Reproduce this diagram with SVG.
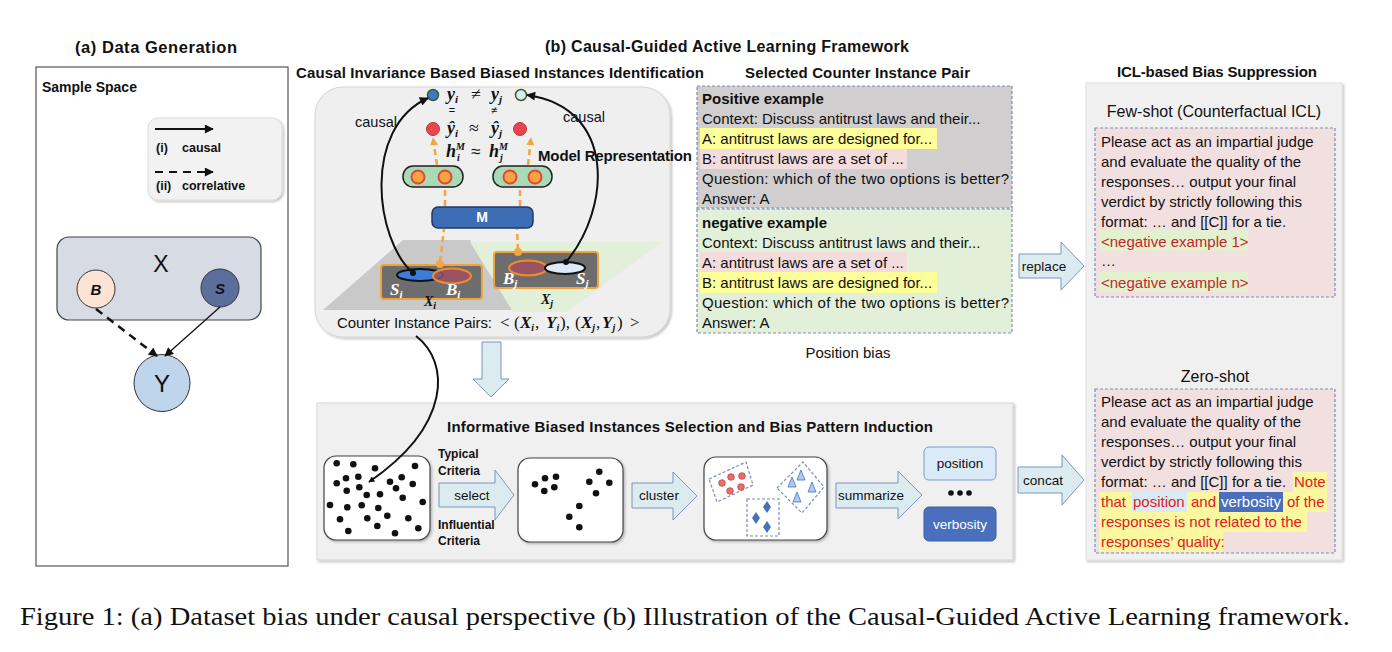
<svg xmlns="http://www.w3.org/2000/svg" width="1392" height="652" viewBox="0 0 1392 652">
<defs>
<style>
text{font-family:"Liberation Sans",Arial,sans-serif;fill:#111}
.b{font-weight:bold}
.m{font-family:"Liberation Serif","DejaVu Serif",serif;font-style:italic;font-weight:bold}
.sr{font-family:"Liberation Serif","DejaVu Serif",serif}
.w{fill:#fff}
.ddash{stroke:#7c8db8;stroke-width:1.2;stroke-dasharray:3 2}
.barrow{fill:#dcebef;stroke:#7b96c2;stroke-width:1}
.or{fill:none;stroke:#f4a53f;stroke-width:2.5;stroke-dasharray:6 4}
.d{fill:#111}
.wb{fill:#fff;stroke:#444;stroke-width:1.2}
.rd{fill:#e8706c;stroke:#c94040;stroke-width:0.8}
.tri{fill:#a9cdf0;stroke:#4a6fbd;stroke-width:0.8}
.dia{fill:#4a6fbd}
.odot{fill:#f5a442;stroke:#e8443a;stroke-width:2}
.rdot{fill:#e94452;stroke:#c0392b;stroke-width:1}
.red{fill:#c0282d}
.r2{fill:#e02020}
.n{font-style:normal;font-weight:normal}
</style>
<filter id="sh" x="-5%" y="-5%" width="115%" height="115%">
<feDropShadow dx="1.5" dy="1.5" stdDeviation="1.2" flood-color="#000" flood-opacity="0.25"/>
</filter>
<marker id="ah" viewBox="0 0 10 10" refX="9" refY="5" markerWidth="10" markerHeight="9" markerUnits="userSpaceOnUse" orient="auto">
<path d="M0,0 L10,5 L0,10 z" fill="#111"/>
</marker>
<marker id="ahs" viewBox="0 0 10 10" refX="9" refY="5" markerWidth="7" markerHeight="6" markerUnits="userSpaceOnUse" orient="auto">
<path d="M0,0 L10,5 L0,10 z" fill="#111"/>
</marker>
<marker id="aho" viewBox="0 0 10 10" refX="9" refY="5" markerWidth="8" markerHeight="8" markerUnits="userSpaceOnUse" orient="auto">
<path d="M0,0 L10,5 L0,10 z" fill="#f4a53f"/>
</marker>
</defs>
<rect width="1392" height="652" fill="#fff"/>

<!-- Titles -->
<g id="titles">
<text x="75" y="53" class="b" font-size="16.5" textLength="162">(a)  Data Generation</text>
<text x="545" y="52" class="b" font-size="16" textLength="364">(b)  Causal-Guided Active Learning Framework</text>
<text x="296" y="78" class="b" font-size="15" textLength="408">Causal Invariance Based Biased Instances Identification</text>
<text x="745" y="78" class="b" font-size="15" textLength="225">Selected Counter Instance Pair</text>
<text x="1117" y="77" class="b" font-size="15" textLength="200">ICL-based Bias Suppression</text>
</g>

<!-- (a) Data generation panel -->
<g id="panel-a">
<rect x="36" y="67" width="252" height="499" fill="#fff" stroke="#555" stroke-width="1.2"/>
<text x="42" y="92" class="b" font-size="14">Sample Space</text>
</g>
<g id="legend">
<rect x="148" y="118" width="134" height="82" rx="10" fill="#f2f2f2" stroke="#ddd" filter="url(#sh)"/>
<line x1="155" y1="129" x2="213" y2="129" stroke="#111" stroke-width="2" marker-end="url(#ah)"/>
<text x="156" y="152" class="b" font-size="12.5">(i)</text>
<text x="182" y="152" class="b" font-size="12.5">causal</text>
<line x1="155" y1="172" x2="213" y2="172" stroke="#111" stroke-width="2" stroke-dasharray="8 6" marker-end="url(#ah)"/>
<text x="156" y="190" class="b" font-size="12.5">(ii)</text>
<text x="182" y="190" class="b" font-size="12.5">correlative</text>
</g>
<g id="node-X">
<rect x="57" y="237" width="204" height="83" rx="12" fill="#d6dbe4" stroke="#444" stroke-width="1.2"/>
<text x="161" y="272" font-size="23" text-anchor="middle">X</text>
</g>
<g id="node-B">
<circle cx="96" cy="289" r="19" fill="#fbe4d4" stroke="#333" stroke-width="1"/>
<text x="96" y="295" class="b" font-size="15" font-style="italic" text-anchor="middle">B</text>
</g>
<g id="node-S">
<circle cx="220" cy="288" r="19" fill="#5b6e9c" stroke="#333" stroke-width="1"/>
<text x="220" y="294" class="b" font-size="15" font-style="italic" text-anchor="middle">S</text>
</g>
<g id="node-Y">
<ellipse cx="162" cy="383" rx="28" ry="28.5" fill="#bfd5ec" stroke="#333" stroke-width="1"/>
<text x="162" y="392" font-size="24" text-anchor="middle">Y</text>
</g>

<!-- Top middle: causal invariance -->
<g id="causal-box">
<rect x="315" y="87" width="355" height="250" rx="28" fill="#efefef" stroke="#d5d5d5" filter="url(#sh)"/>
<polygon points="323,310 403,240 470,240 513,310" fill="#c9c9c9"/>
<polygon points="470,242 662,242 567,312 513,312" fill="#e2efd9"/>
</g>
<g id="node-Xi">
<rect x="381" y="265" width="101" height="34" rx="3" fill="#6d6d6d" stroke="#f0a23b" stroke-width="2"/>
<ellipse cx="420" cy="275" rx="23" ry="6" fill="#3b7dd8" stroke="#111" stroke-width="2"/>
<ellipse cx="452" cy="276" rx="19" ry="7.5" fill="#a0505e" fill-opacity="0.85" stroke="#f08a30" stroke-width="2"/>
<circle cx="413" cy="273" r="3" fill="#111"/>
<circle cx="440" cy="264" r="4" fill="#f5a442"/>
<text x="390" y="295" class="m w" font-size="17">S<tspan font-size="11" dy="3">i</tspan></text>
<text x="446" y="295" class="m w" font-size="17">B<tspan font-size="11" dy="3">i</tspan></text>
<text x="424" y="306" class="m" font-size="14">X<tspan font-size="10" dy="3">i</tspan></text>
</g>
<g id="node-Xj">
<rect x="494" y="252" width="104" height="36" rx="3" fill="#6d6d6d" stroke="#f0a23b" stroke-width="2"/>
<ellipse cx="528" cy="268" rx="19" ry="7.5" fill="#a0505e" fill-opacity="0.85" stroke="#f08a30" stroke-width="2"/>
<ellipse cx="565" cy="268" rx="20" ry="6" fill="#dce9f7" stroke="#111" stroke-width="2"/>
<circle cx="566" cy="262" r="3" fill="#111"/>
<circle cx="518" cy="252" r="4" fill="#f5a442"/>
<text x="503" y="284" class="m w" font-size="17">B<tspan font-size="11" dy="3">j</tspan></text>
<text x="576" y="284" class="m w" font-size="17">S<tspan font-size="11" dy="3">j</tspan></text>
<text x="541" y="304" class="m" font-size="14">X<tspan font-size="10" dy="3">j</tspan></text>
</g>
<g id="node-M">
<rect x="432" y="207" width="101" height="21" rx="6" fill="#3d6db4" stroke="#203864" stroke-width="1.5"/>
<text x="482" y="222" class="b w" font-size="14" text-anchor="middle">M</text>
</g>
<g id="node-pill-i">
<rect x="403" y="166" width="60" height="21" rx="10" fill="#a8dab5" stroke="#222" stroke-width="1.5"/>
<circle cx="418" cy="177" r="6.5" class="odot"/>
<circle cx="445" cy="177" r="6.5" class="odot"/>
</g>
<g id="node-pill-j">
<rect x="493" y="166" width="59" height="21" rx="10" fill="#a8dab5" stroke="#222" stroke-width="1.5"/>
<circle cx="510" cy="177" r="6.5" class="odot"/>
<circle cx="535" cy="177" r="6.5" class="odot"/>
</g>
<g id="node-outputs">
<circle cx="433" cy="95" r="5.5" fill="#3a78c9" stroke="#3b5e2b" stroke-width="1.5"/>
<circle cx="521" cy="95" r="5.5" fill="#dbe8f5" stroke="#3b5e2b" stroke-width="1.5"/>
<circle cx="433" cy="129" r="6.5" class="rdot"/>
<circle cx="520" cy="129" r="6.5" class="rdot"/>
<text class="m" font-size="18" y="100"><tspan x="447">y</tspan><tspan font-size="11" dy="3">i</tspan><tspan x="471" dy="-3" class="n">≠</tspan><tspan x="491">y</tspan><tspan font-size="11" dy="3">j</tspan></text>
<text x="452" y="114" font-size="11" text-anchor="middle">=</text>
<text x="494" y="114" font-size="11" text-anchor="middle">≠</text>
<text class="m" font-size="18" y="134"><tspan x="447">ŷ</tspan><tspan font-size="11" dy="3">i</tspan><tspan x="469" dy="-3" class="n">≈</tspan><tspan x="491">ŷ</tspan><tspan font-size="11" dy="3">j</tspan></text>
<text class="m" font-size="18" x="446" y="157">h</text>
<text class="m" font-size="10" x="456" y="150">M</text>
<text class="m" font-size="10" x="457" y="161">i</text>
<text font-size="17" x="471" y="157">≈</text>
<text class="m" font-size="18" x="489" y="157">h</text>
<text class="m" font-size="10" x="499" y="150">M</text>
<text class="m" font-size="10" x="500" y="161">j</text>
<text x="538" y="161" class="b" font-size="15" textLength="154">Model Representation</text>
<text x="355" y="127" font-size="14.5">causal</text>
<text x="563" y="122" font-size="14.5">causal</text>
<text x="337" y="328" font-size="15" textLength="155">Counter Instance Pairs:</text>
<text class="m" font-size="17" y="328"><tspan x="500" class="n">&lt;</tspan><tspan x="514" class="n">(</tspan><tspan x="520">X</tspan><tspan font-size="10" dy="3">i</tspan><tspan x="535" dy="-3" class="n">,</tspan><tspan x="546">Y</tspan><tspan font-size="10" dy="3">i</tspan><tspan x="560" dy="-3" class="n">),</tspan><tspan x="575" class="n">(</tspan><tspan x="581">X</tspan><tspan font-size="10" dy="3">j</tspan><tspan x="596" dy="-3" class="n">,</tspan><tspan x="602">Y</tspan><tspan font-size="10" dy="3">j</tspan><tspan x="617" dy="-3" class="n">)</tspan><tspan x="630" class="n">&gt;</tspan></text>
</g>

<!-- Selected counter instance pair -->
<g id="node-positive">
<rect x="697" y="86" width="315" height="122" fill="#d0cece" class="ddash"/>
<rect x="700" y="128" width="237" height="21" fill="#ffff99"/>
<rect x="700" y="149" width="207" height="20" fill="#f4dcdc"/>
<text x="702" y="104" class="b" font-size="15">Positive example</text>
<text x="702" y="124" font-size="15">Context: Discuss antitrust laws and their...</text>
<text x="702" y="144" font-size="15">A: antitrust laws are designed for...</text>
<text x="702" y="164" font-size="15">B: antitrust laws are a set of ...</text>
<text x="702" y="184" font-size="15" textLength="307">Question: which of the two options is better?</text>
<text x="702" y="204" font-size="15">Answer: A</text>
</g>
<g id="node-negative">
<rect x="697" y="209" width="315" height="124" fill="#e2efd9" class="ddash"/>
<rect x="700" y="252" width="207" height="20" fill="#f4dcdc"/>
<rect x="700" y="272" width="237" height="21" fill="#ffff99"/>
<text x="702" y="228" class="b" font-size="15">negative example</text>
<text x="702" y="248" font-size="15">Context: Discuss antitrust laws and their...</text>
<text x="702" y="268" font-size="15">A: antitrust laws are a set of ...</text>
<text x="702" y="288" font-size="15">B: antitrust laws are designed for...</text>
<text x="702" y="308" font-size="15" textLength="307">Question: which of the two options is better?</text>
<text x="702" y="328" font-size="15">Answer: A</text>
</g>
<text x="848" y="358" font-size="15" text-anchor="middle">Position bias</text>

<!-- ICL panel -->
<g id="icl-panel">
<rect x="1086" y="83" width="256" height="477" fill="#f0f0f0" stroke="#e0e0e0" filter="url(#sh)"/>
<text x="1214" y="117" font-size="16" text-anchor="middle">Few-shot (Counterfactual ICL)</text>
<text x="1215" y="382" font-size="16" text-anchor="middle">Zero-shot</text>
</g>
<g id="node-fewshot">
<rect x="1095" y="128" width="240" height="169" fill="#f2dfdf" class="ddash"/>
<rect x="1099" y="230" width="149" height="21" fill="#e3f1cf"/>
<rect x="1099" y="272" width="149" height="20" fill="#e3f1cf"/>
<text x="1101" y="147" font-size="15">Please act as an impartial judge</text>
<text x="1101" y="167" font-size="15">and evaluate the quality of the</text>
<text x="1101" y="187" font-size="15">responses… output your final</text>
<text x="1101" y="207" font-size="15">verdict by strictly following this</text>
<text x="1101" y="227" font-size="15">format: … and [[C]] for a tie.</text>
<text x="1101" y="247" font-size="15" class="red">&lt;negative example 1&gt;</text>
<text x="1101" y="266" font-size="15">…</text>
<text x="1101" y="288" font-size="15" class="red">&lt;negative example n&gt;</text>
</g>
<g id="node-zeroshot">
<rect x="1095" y="389" width="240" height="164" fill="#f2dfdf" class="ddash"/>
<rect x="1293" y="472" width="34" height="20" fill="#fcf8a0"/>
<rect x="1099" y="492" width="228" height="20" fill="#fcf8a0"/>
<rect x="1099" y="512" width="208" height="20" fill="#fcf8a0"/>
<rect x="1099" y="532" width="124" height="20" fill="#fcf8a0"/>
<rect x="1132" y="492" width="55" height="20" fill="#d9eaf7"/>
<rect x="1219" y="492" width="64" height="20" fill="#4a6fbd"/>
<text x="1101" y="407" font-size="15">Please act as an impartial judge</text>
<text x="1101" y="427" font-size="15">and evaluate the quality of the</text>
<text x="1101" y="447" font-size="15">responses… output your final</text>
<text x="1101" y="467" font-size="15">verdict by strictly following this</text>
<text x="1101" y="487" font-size="15">format: … and [[C]] for a tie.</text>
<text x="1294" y="487" font-size="15" class="r2">Note</text>
<text x="1101" y="507" font-size="15" class="r2">that</text>
<text x="1133" y="507" font-size="15" class="r2">position</text>
<text x="1191" y="507" font-size="15" class="r2">and</text>
<text x="1221" y="507" font-size="15" class="w">verbosity</text>
<text x="1287" y="507" font-size="15" class="r2">of the</text>
<text x="1101" y="527" font-size="15" class="r2">responses is not related to the</text>
<text x="1101" y="547" font-size="15" class="r2">responses’ quality:</text>
</g>

<!-- Bottom panel -->
<g id="selection-panel">
<rect x="317" y="403" width="696" height="157" fill="#f0f0f0" stroke="#d5d5d5" filter="url(#sh)"/>
<text x="447" y="432" class="b" font-size="15" textLength="486">Informative Biased Instances Selection and Bias Pattern Induction</text>
</g>
<g id="node-pool">
<rect x="324" y="456" width="106" height="84" rx="12" class="wb" filter="url(#sh)"/>
<g class="d">
<circle cx="336.7" cy="463.3" r="3.3"/><circle cx="353.3" cy="464.3" r="3.3"/><circle cx="375" cy="468.3" r="3.3"/><circle cx="415" cy="466" r="3.3"/>
<circle cx="346" cy="478.3" r="3.3"/><circle cx="358.3" cy="476.7" r="3.3"/><circle cx="336.7" cy="483.3" r="3.3"/><circle cx="346.7" cy="490.7" r="3.3"/>
<circle cx="359.3" cy="487.3" r="3.3"/><circle cx="366.7" cy="495" r="3.3"/><circle cx="380" cy="494.3" r="3.3"/><circle cx="390" cy="481.7" r="3.3"/>
<circle cx="401.7" cy="477.3" r="3.3"/><circle cx="396" cy="488.3" r="3.3"/><circle cx="412.7" cy="484" r="3.3"/><circle cx="402.7" cy="497.7" r="3.3"/>
<circle cx="330" cy="505" r="3.3"/><circle cx="347.3" cy="507.3" r="3.3"/><circle cx="361.7" cy="505.3" r="3.3"/><circle cx="378.3" cy="508" r="3.3"/>
<circle cx="422.7" cy="502" r="3.3"/><circle cx="340" cy="519.3" r="3.3"/><circle cx="367.3" cy="518.3" r="3.3"/><circle cx="387.3" cy="515.7" r="3.3"/>
<circle cx="408.3" cy="518.3" r="3.3"/><circle cx="377.3" cy="526" r="3.3"/><circle cx="348.3" cy="531" r="3.3"/><circle cx="395" cy="533.3" r="3.3"/>
<circle cx="418.3" cy="528.3" r="3.3"/>
</g>
</g>
<g id="criteria-labels">
<text x="438" y="458" class="b" font-size="12">Typical</text>
<text x="438" y="475" class="b" font-size="12">Criteria</text>
<text x="438" y="529" class="b" font-size="12">Influential</text>
<text x="438" y="545" class="b" font-size="12">Criteria</text>
</g>
<g id="node-selected">
<rect x="518" y="458" width="105" height="84" rx="12" class="wb" filter="url(#sh)"/>
<g class="d">
<circle cx="535" cy="484.3" r="3.3"/><circle cx="545" cy="478.3" r="3.3"/><circle cx="556" cy="476.7" r="3.3"/><circle cx="544.3" cy="491" r="3.3"/>
<circle cx="554.3" cy="487.3" r="3.3"/><circle cx="599.3" cy="471.7" r="3.3"/><circle cx="589.3" cy="481.7" r="3.3"/><circle cx="609.3" cy="482.7" r="3.3"/>
<circle cx="596" cy="493.3" r="3.3"/><circle cx="579.3" cy="506" r="3.3"/><circle cx="569.3" cy="516.7" r="3.3"/><circle cx="579.3" cy="527.3" r="3.3"/>
</g>
</g>
<g id="node-clusters">
<rect x="704" y="457" width="123" height="83" rx="12" class="wb" filter="url(#sh)"/>
<polygon points="709,479 746,462 753,485 717,502" fill="none" class="ddash"/>
<polygon points="777,488 803,462 824,487 802,513" fill="none" class="ddash"/>
<rect x="747" y="499" width="32" height="37" fill="none" class="ddash"/>
<circle cx="722" cy="483" r="3.3" class="rd"/><circle cx="731" cy="477" r="3.3" class="rd"/><circle cx="742" cy="476" r="3.3" class="rd"/>
<circle cx="730" cy="491" r="3.3" class="rd"/><circle cx="741" cy="487" r="3.3" class="rd"/>
<polygon points="801,470 797,480 805,480" class="tri"/><polygon points="792,477 788,487 796,487" class="tri"/>
<polygon points="812,482 808,492 816,492" class="tri"/><polygon points="797,492 793,502 801,502" class="tri"/>
<polygon points="767,501 771,507 767,513 763,507" class="dia"/><polygon points="756,512 760,518 756,524 752,518" class="dia"/>
<polygon points="767,521 771,527 767,533 763,527" class="dia"/>
</g>
<g id="node-position">
<rect x="924" y="447" width="72" height="33" rx="5" fill="#dbeaf7" stroke="#7a9bd0" stroke-width="1"/>
<text x="960" y="468" font-size="13.5" text-anchor="middle">position</text>
</g>
<g id="ellipsis">
<circle cx="951" cy="493" r="2.8" fill="#111"/><circle cx="960" cy="493" r="2.8" fill="#111"/><circle cx="969" cy="493" r="2.8" fill="#111"/>
</g>
<g id="node-verbosity">
<rect x="924" y="507" width="72" height="34" rx="5" fill="#4a6fbd" stroke="#3d5fa8" stroke-width="1"/>
<text x="960" y="529" font-size="13.5" text-anchor="middle" class="w">verbosity</text>
</g>

<!-- Connectors -->
<g id="connectors">
<line x1="96" y1="309" x2="157" y2="356" stroke="#111" stroke-width="2.5" stroke-dasharray="8 6" marker-end="url(#ah)"/>
<line x1="220" y1="307" x2="165" y2="356" stroke="#111" stroke-width="1.3" marker-end="url(#ah)"/>
<path d="M413,273 C375,240 362,128 428,98" fill="none" stroke="#111" stroke-width="2" marker-end="url(#ah)"/>
<path d="M566,262 C610,210 618,108 527,95" fill="none" stroke="#111" stroke-width="2" marker-end="url(#ah)"/>
<line x1="440" y1="262" x2="444" y2="229" class="or"/>
<line x1="445" y1="206" x2="445" y2="189" class="or"/>
<line x1="437" y1="165" x2="433" y2="138" class="or" marker-end="url(#aho)"/>
<line x1="518" y1="250" x2="517" y2="229" class="or"/>
<line x1="520" y1="206" x2="520" y2="189" class="or"/>
<line x1="528" y1="165" x2="531" y2="138" class="or" marker-end="url(#aho)"/>
<path d="M416,336 C450,362 452,425 369,482" fill="none" stroke="#111" stroke-width="2" marker-end="url(#ahs)"/>
<polygon points="482,342 501,342 501,379 509,379 491,397 473,379 482,379" class="barrow"/>
<g id="arrow-select">
<polygon points="439,483 495,483 495,470 514,495 495,520 495,507 439,507" class="barrow"/>
<text x="472" y="500" font-size="13.5" text-anchor="middle">select</text>
</g>
<g id="arrow-cluster">
<polygon points="632,483 673,483 673,472 697,496 673,520 673,508 632,508" class="barrow"/>
<text x="659" y="500" font-size="13.5" text-anchor="middle">cluster</text>
</g>
<g id="arrow-summarize">
<polygon points="836,483 898,483 898,471 922,495 898,519 898,508 836,508" class="barrow"/>
<text x="871" y="500" font-size="13.5" text-anchor="middle">summarize</text>
</g>
<g id="arrow-replace">
<polygon points="1019,254 1061,254 1061,242 1084,266 1061,290 1061,278 1019,278" class="barrow"/>
<text x="1044" y="271" font-size="13.5" text-anchor="middle">replace</text>
</g>
<g id="arrow-concat">
<polygon points="1018,467 1062,467 1062,455 1084,480 1062,505 1062,493 1018,493" class="barrow"/>
<text x="1043" y="485" font-size="13.5" text-anchor="middle">concat</text>
</g>
</g>

<text x="20" y="625" class="sr" font-size="25" textLength="1330" lengthAdjust="spacingAndGlyphs">Figure 1: (a) Dataset bias under causal perspective (b) Illustration of the Causal-Guided Active Learning framework.</text>
</svg>
